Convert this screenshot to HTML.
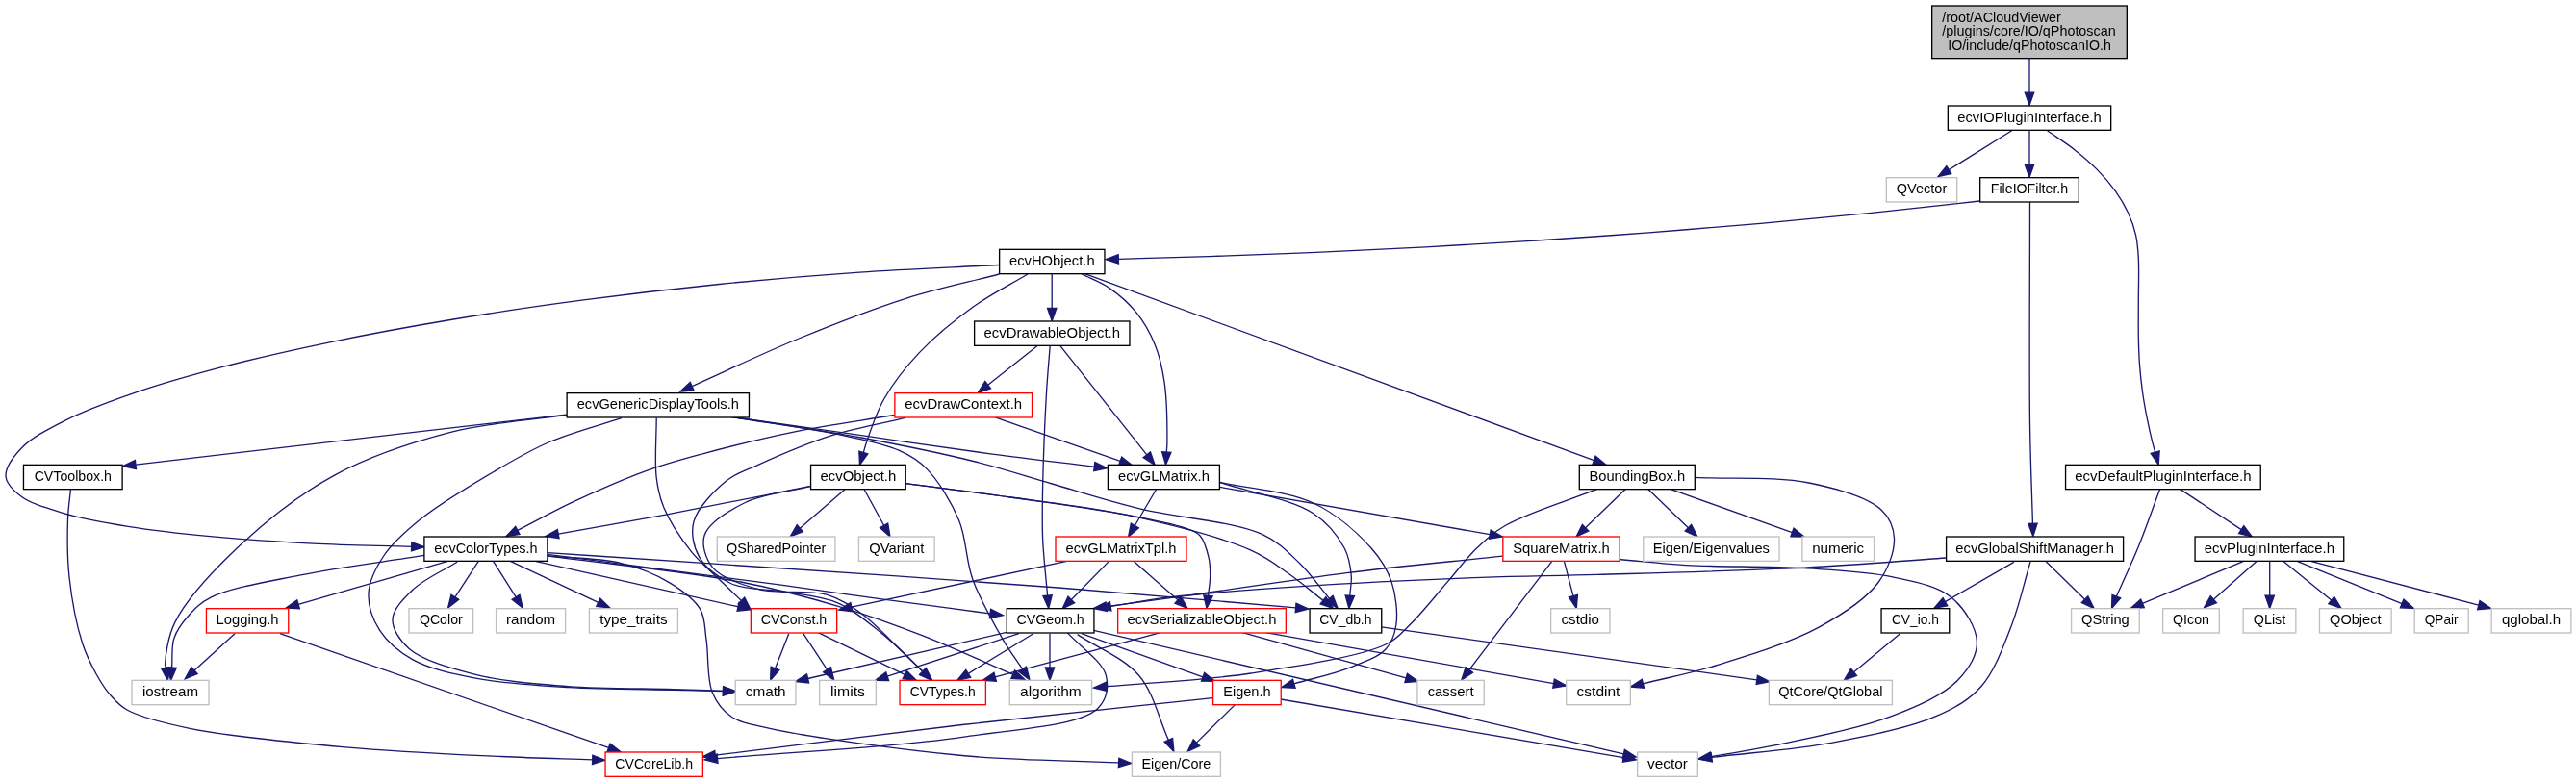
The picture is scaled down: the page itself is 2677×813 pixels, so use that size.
<!DOCTYPE html><html><head><meta charset="utf-8"><style>html,body{margin:0;padding:0;background:#fff;}svg{display:block;}text{font-family:"Liberation Sans",sans-serif;font-size:13.9px;fill:#000;}.t text{}</style></head><body>
<svg width="2677" height="813" viewBox="0 0 2677 813">
<rect width="2677" height="813" fill="#fff"/>
<g fill="none" stroke="#191970" stroke-width="1.33">
<path d="M2109.00,60.60 L2109.00,96.17"/><polygon fill="#191970" points="2109.00,109.50 2113.67,96.17 2104.33,96.17"/>
<path d="M2090.70,135.80 L2025.31,176.55"/><polygon fill="#191970" points="2014.00,183.60 2027.78,180.51 2022.84,172.59"/>
<path d="M2109.00,135.40 L2109.00,171.07"/><polygon fill="#191970" points="2109.00,184.40 2113.67,171.07 2104.33,171.07"/>
<path d="M2127.50,135.80 C2137.07,142.50 2147.28,148.86 2156.20,155.90 C2164.68,162.59 2172.74,169.56 2179.90,176.90 C2186.70,183.86 2192.94,191.13 2198.30,198.70 C2203.44,205.96 2208.02,213.52 2211.60,221.30 C2215.07,228.84 2217.82,236.68 2219.60,244.60 C2221.37,252.45 2221.78,259.34 2222.30,268.60 C2223.01,281.25 2222.30,299.39 2222.30,313.60 C2222.30,326.38 2222.07,338.52 2222.30,350.00 C2222.51,360.33 2222.79,369.72 2223.50,379.40 C2224.20,388.88 2225.21,398.27 2226.50,407.50 C2227.76,416.53 2229.37,425.45 2231.10,434.20 C2232.78,442.74 2235.05,452.78 2236.70,459.40 C2237.78,463.75 2238.67,466.57 2239.66,470.15"/><polygon fill="#191970" points="2243.20,483.00 2244.16,468.91 2235.16,471.39"/>
<path d="M2057.50,209.00 C2019.87,213.13 1982.42,217.53 1944.60,221.40 C1906.46,225.30 1868.04,228.91 1829.60,232.30 C1790.98,235.71 1752.15,238.85 1713.40,241.80 C1674.65,244.75 1635.82,247.50 1597.10,250.00 C1558.52,252.49 1519.89,254.74 1481.50,256.80 C1443.42,258.84 1405.42,260.66 1367.70,262.30 C1330.42,263.92 1292.03,265.40 1256.50,266.60 C1223.81,267.70 1193.72,268.41 1162.32,269.32"/><polygon fill="#191970" points="1149.00,269.70 1162.46,273.98 1162.19,264.65"/>
<path d="M2109.50,209.90 C2109.50,286.60 2108.63,378.29 2109.50,440.00 C2110.08,481.55 2111.45,509.52 2112.43,544.28"/><polygon fill="#191970" points="2112.80,557.60 2117.09,544.14 2107.76,544.41"/>
<path d="M1038.40,275.50 C990.00,278.03 941.63,279.78 893.20,283.10 C844.60,286.44 795.64,290.62 747.30,295.50 C699.38,300.34 651.40,305.95 604.40,312.20 C558.43,318.31 512.68,325.07 468.30,332.50 C425.55,339.65 383.28,347.39 342.80,355.80 C304.52,363.76 266.88,372.15 231.60,381.40 C199.08,389.93 167.32,398.85 138.60,408.80 C113.06,417.65 88.05,426.71 67.40,437.30 C50.10,446.17 32.47,455.09 22.00,466.20 C13.81,474.89 5.42,486.35 6.00,495.00 C6.51,502.68 13.93,509.98 21.50,515.80 C31.70,523.65 48.79,528.36 65.20,533.30 C85.12,539.29 108.91,543.36 133.10,547.30 C160.45,551.76 190.50,555.00 221.10,557.90 C254.28,561.04 290.54,563.37 325.10,565.10 C359.39,566.82 393.48,567.22 427.68,568.29"/><polygon fill="#191970" points="441.00,568.70 427.82,563.62 427.53,572.95"/>
<path d="M1038.40,285.00 C1006.07,293.43 974.66,299.76 941.40,310.30 C904.98,321.84 865.85,337.29 828.80,352.50 C791.77,367.71 755.71,385.20 719.17,401.56"/><polygon fill="#191970" points="707.00,407.00 721.07,405.82 717.26,397.29"/>
<path d="M1068.00,285.00 C1049.23,296.27 1029.95,305.71 1011.70,318.80 C992.35,332.68 971.39,349.75 955.40,366.60 C940.97,381.82 928.24,398.15 918.90,414.50 C910.52,429.19 904.11,449.51 900.60,459.50 C898.89,464.36 898.41,466.85 897.31,470.53"/><polygon fill="#191970" points="893.50,483.30 901.79,471.86 892.84,469.19"/>
<path d="M1093.20,285.00 L1093.20,320.47"/><polygon fill="#191970" points="1093.20,333.80 1097.87,320.47 1088.53,320.47"/>
<path d="M1124.30,285.00 C1133.67,289.70 1143.43,292.97 1152.40,299.10 C1162.24,305.82 1172.58,314.66 1180.50,324.40 C1188.56,334.31 1195.28,346.13 1200.20,358.20 C1205.21,370.50 1207.94,382.87 1210.10,397.60 C1212.77,415.79 1212.98,447.47 1212.90,459.50 C1212.87,464.46 1212.49,466.50 1212.28,469.99"/><polygon fill="#191970" points="1211.50,483.30 1216.94,470.27 1207.62,469.72"/>
<path d="M1127.50,284.60 L1656.49,478.61"/><polygon fill="#191970" points="1669.00,483.20 1658.09,474.23 1654.88,482.99"/>
<path d="M1078.10,359.60 L1026.67,400.15"/><polygon fill="#191970" points="1016.20,408.40 1029.56,403.81 1023.78,396.48"/>
<path d="M1091.20,359.60 C1089.93,376.40 1088.52,390.46 1087.40,410.00 C1085.85,437.08 1084.14,479.51 1083.60,507.00 C1083.20,527.31 1082.84,541.86 1083.60,560.00 C1084.41,579.21 1086.92,599.48 1088.58,619.22"/><polygon fill="#191970" points="1089.70,632.50 1093.24,618.83 1083.93,619.61"/>
<path d="M1101.90,359.60 L1191.81,472.86"/><polygon fill="#191970" points="1200.10,483.30 1195.47,469.96 1188.15,475.76"/>
<path d="M929.70,431.50 C895.17,437.27 859.85,441.94 826.10,448.80 C793.40,455.44 758.02,464.29 730.20,471.80 C708.47,477.66 692.96,481.74 672.60,489.10 C648.64,497.76 619.51,510.66 595.90,521.70 C575.02,531.47 557.21,541.52 537.86,551.42"/><polygon fill="#191970" points="526.00,557.50 539.99,555.58 535.74,547.27"/>
<path d="M941.20,434.40 C915.63,440.47 889.78,444.59 864.50,452.60 C838.60,460.80 807.82,474.21 787.70,483.30 C774.25,489.38 764.93,491.68 754.70,500.00 C742.34,510.05 724.85,527.77 721.00,542.20 C717.81,554.15 720.68,568.31 726.60,578.80 C733.05,590.24 746.68,600.85 760.40,607.00 C776.00,614.00 798.23,612.07 816.70,615.40 C834.79,618.66 853.69,619.67 870.10,626.70 C886.52,633.73 900.71,646.00 915.20,657.60 C930.34,669.72 944.29,684.68 958.84,698.22"/><polygon fill="#191970" points="968.60,707.30 962.02,694.80 955.66,701.64"/>
<path d="M1034.10,433.90 L1164.12,479.40"/><polygon fill="#191970" points="1176.70,483.80 1165.66,474.99 1162.58,483.81"/>
<path d="M588.20,431.10 L140.94,483.06"/><polygon fill="#191970" points="127.70,484.60 141.48,487.70 140.40,478.42"/>
<path d="M589.20,431.30 C549.27,437.27 509.05,439.02 469.40,449.20 C428.19,459.78 384.46,473.93 346.70,494.60 C309.12,515.18 272.01,545.34 243.30,572.80 C218.56,596.46 193.19,624.30 181.90,646.90 C174.24,662.23 171.86,683.13 171.60,690.00 C171.52,692.14 172.05,692.83 172.28,694.24"/><polygon fill="#191970" points="174.40,707.40 176.89,693.50 167.67,694.98"/>
<path d="M645.90,434.60 C620.93,442.90 593.94,449.65 571.00,459.50 C550.16,468.45 533.78,478.23 513.50,490.20 C489.46,504.39 457.21,523.47 436.70,540.10 C420.92,552.90 407.49,564.71 398.40,578.50 C390.46,590.54 383.58,604.01 383.00,616.90 C382.43,629.58 387.35,644.00 394.50,655.20 C402.19,667.25 414.68,677.91 429.10,685.90 C446.59,695.59 470.23,700.39 494.30,705.10 C522.96,710.70 557.11,712.64 590.20,714.70 C625.52,716.90 670.25,716.71 700.00,717.40 C720.37,717.87 734.32,718.14 751.47,718.51"/><polygon fill="#191970" points="764.80,718.80 751.57,713.84 751.37,723.18"/>
<path d="M682.20,434.40 C682.20,455.17 680.10,479.56 682.20,496.70 C683.71,509.05 685.34,517.08 690.00,528.10 C695.98,542.22 707.93,560.42 718.10,573.20 C726.90,584.26 737.22,592.43 746.30,601.30 C754.63,609.44 762.42,616.75 770.48,624.48"/><polygon fill="#191970" points="780.10,633.70 773.71,621.10 767.25,627.85"/>
<path d="M759.40,433.30 C804.70,439.77 850.01,446.23 895.30,452.70 C940.58,459.17 988.59,466.46 1031.10,472.10 C1068.64,477.08 1101.88,480.75 1137.27,485.08"/><polygon fill="#191970" points="1150.50,486.70 1137.84,480.45 1136.70,489.72"/>
<path d="M759.40,433.30 C798.23,439.77 843.87,445.79 875.90,452.70 C898.77,457.64 918.49,461.15 934.10,468.20 C946.00,473.57 954.10,478.24 963.20,487.60 C975.41,500.16 988.68,521.82 996.60,540.90 C1004.50,559.93 1003.47,581.84 1010.70,601.90 C1018.36,623.17 1032.34,647.76 1042.20,664.80 C1049.35,677.16 1055.83,685.39 1062.64,695.68"/><polygon fill="#191970" points="1070.00,706.80 1066.54,693.11 1058.75,698.26"/>
<path d="M759.40,433.30 C804.60,440.53 851.40,446.92 895.00,455.00 C935.98,462.59 978.21,471.15 1013.70,480.00 C1043.05,487.32 1065.86,495.13 1093.40,503.00 C1122.98,511.46 1152.27,520.95 1185.50,529.10 C1223.95,538.53 1282.03,541.96 1311.00,555.20 C1328.93,563.39 1338.23,573.80 1350.00,585.00 C1361.75,596.18 1371.06,609.88 1381.59,622.32"/><polygon fill="#191970" points="1390.20,632.50 1385.15,619.31 1378.02,625.34"/>
<path d="M73.40,509.00 C72.43,519.33 70.91,527.96 70.50,540.00 C69.93,556.71 69.74,579.47 72.00,600.00 C74.43,622.06 79.59,649.70 85.40,668.00 C89.57,681.16 94.65,691.04 100.00,700.70 C104.64,709.07 109.39,716.60 115.00,723.00 C120.15,728.87 123.82,733.47 132.00,738.00 C146.16,745.84 170.26,751.74 197.10,757.30 C238.67,765.90 304.82,771.93 358.80,776.80 C412.65,781.66 473.78,784.28 520.60,786.50 C556.47,788.20 583.99,788.72 615.68,789.83"/><polygon fill="#191970" points="629.00,790.30 615.84,785.17 615.51,794.50"/>
<path d="M842.40,505.40 C792.20,515.30 738.28,526.34 691.80,535.10 C651.86,542.63 617.41,548.46 580.22,555.14"/><polygon fill="#191970" points="567.10,557.50 581.05,559.74 579.39,550.55"/>
<path d="M842.00,505.60 C819.47,511.23 793.44,513.06 774.40,522.50 C757.63,530.81 736.51,543.50 732.20,556.30 C728.74,566.58 733.34,581.15 740.70,590.10 C749.77,601.12 770.54,607.83 788.50,612.60 C809.26,618.12 839.73,612.52 858.90,618.20 C873.60,622.56 883.88,629.75 895.40,638.00 C907.67,646.79 919.03,659.63 930.00,670.00 C940.15,679.60 949.34,688.69 959.01,698.04"/><polygon fill="#191970" points="968.60,707.30 962.26,694.68 955.77,701.40"/>
<path d="M877.80,509.00 L831.28,549.28"/><polygon fill="#191970" points="821.20,558.00 834.33,552.81 828.22,545.74"/>
<path d="M898.20,509.00 L918.60,546.30"/><polygon fill="#191970" points="925.00,558.00 922.70,544.06 914.51,548.55"/>
<path d="M941.50,502.70 C977.67,507.47 1012.93,511.75 1050.00,517.00 C1089.07,522.53 1136.91,528.94 1170.20,535.20 C1194.13,539.70 1218.04,544.20 1231.50,549.00 C1238.54,551.51 1242.94,552.39 1246.90,556.70 C1251.65,561.86 1254.35,572.14 1256.10,579.70 C1257.68,586.55 1257.72,593.33 1257.60,600.00 C1257.48,606.51 1256.18,612.83 1255.47,619.25"/><polygon fill="#191970" points="1254.00,632.50 1260.11,619.77 1250.83,618.74"/>
<path d="M941.50,502.70 C977.67,507.47 1012.93,511.75 1050.00,517.00 C1089.07,522.53 1129.65,526.40 1170.20,535.20 C1212.93,544.47 1269.75,558.70 1300.00,572.10 C1317.88,580.02 1327.33,588.15 1340.00,597.00 C1352.29,605.59 1363.33,615.20 1374.99,624.30"/><polygon fill="#191970" points="1385.50,632.50 1377.86,620.62 1372.12,627.98"/>
<path d="M1201.40,509.00 L1179.35,546.51"/><polygon fill="#191970" points="1172.60,558.00 1183.38,548.87 1175.33,544.14"/>
<path d="M1266.50,506.20 L1548.37,555.69"/><polygon fill="#191970" points="1561.50,558.00 1549.18,551.09 1547.56,560.29"/>
<path d="M1266.50,501.10 C1299.27,511.97 1342.13,518.81 1364.80,533.70 C1380.34,543.91 1390.79,557.89 1397.20,570.00 C1402.14,579.33 1403.42,589.26 1404.20,598.00 C1404.87,605.50 1403.26,612.13 1402.79,619.20"/><polygon fill="#191970" points="1401.90,632.50 1407.45,619.51 1398.13,618.89"/>
<path d="M1268.20,501.50 C1300.40,508.67 1337.57,510.16 1364.80,523.00 C1388.74,534.28 1411.08,554.18 1425.10,570.00 C1435.34,581.55 1441.78,591.99 1446.10,604.90 C1450.65,618.52 1452.73,637.38 1450.80,650.00 C1449.30,659.78 1446.56,668.05 1440.00,675.00 C1431.66,683.84 1415.17,689.11 1400.60,694.80 C1383.89,701.33 1363.41,705.48 1344.81,710.82"/><polygon fill="#191970" points="1332.00,714.50 1346.10,715.31 1343.52,706.33"/>
<path d="M1689.20,508.60 L1647.59,548.74"/><polygon fill="#191970" points="1638.00,558.00 1650.84,552.11 1644.35,545.38"/>
<path d="M1712.70,508.60 L1754.40,548.75"/><polygon fill="#191970" points="1764.00,558.00 1757.64,545.39 1751.16,552.12"/>
<path d="M1736.20,508.60 L1862.44,553.53"/><polygon fill="#191970" points="1875.00,558.00 1864.01,549.13 1860.88,557.93"/>
<path d="M1659.40,508.60 C1627.93,521.07 1587.16,533.23 1565.00,546.00 C1551.32,553.89 1544.31,560.73 1534.60,570.00 C1523.99,580.12 1515.09,592.54 1504.30,604.90 C1492.00,618.99 1476.81,638.37 1464.70,650.00 C1455.89,658.47 1452.64,663.96 1440.00,670.00 C1413.18,682.82 1347.70,692.73 1300.00,700.00 C1251.05,707.46 1199.92,709.19 1149.87,713.78"/><polygon fill="#191970" points="1136.60,715.00 1150.30,718.43 1149.45,709.13"/>
<path d="M1761.50,496.40 C1801.00,498.27 1845.48,494.92 1880.00,502.00 C1908.36,507.82 1940.96,516.85 1955.00,530.00 C1964.00,538.43 1968.11,548.85 1968.50,560.00 C1968.98,573.61 1961.99,592.02 1951.60,606.00 C1938.59,623.49 1914.65,638.75 1890.20,652.10 C1860.34,668.41 1815.70,681.83 1782.80,692.00 C1755.71,700.38 1732.56,704.52 1707.43,710.78"/><polygon fill="#191970" points="1694.50,714.00 1708.56,715.31 1706.31,706.25"/>
<path d="M2244.60,508.60 C2237.10,528.67 2229.90,549.71 2222.10,568.80 C2214.86,586.54 2200.98,616.20 2199.60,619.50 C2199.45,619.85 2199.45,619.89 2199.37,620.09"/><polygon fill="#191970" points="2194.50,632.50 2203.72,621.80 2195.02,618.39"/>
<path d="M2265.70,508.60 L2329.19,550.64"/><polygon fill="#191970" points="2340.30,558.00 2331.76,546.75 2326.61,554.53"/>
<path d="M441.20,577.40 C397.83,584.30 350.56,590.04 311.10,598.10 C277.62,604.93 238.91,611.15 219.10,621.10 C207.98,626.68 202.43,632.79 196.00,640.00 C189.78,646.98 183.83,654.74 180.90,663.50 C177.83,672.68 179.37,683.91 178.60,694.11"/><polygon fill="#191970" points="177.60,707.40 183.26,694.46 173.94,693.76"/>
<path d="M465.60,583.30 L310.10,628.29"/><polygon fill="#191970" points="297.30,632.00 311.40,632.78 308.81,623.81"/>
<path d="M475.10,584.20 C459.77,593.80 440.69,601.90 429.10,613.00 C419.50,622.20 408.48,633.32 408.00,643.70 C407.54,653.79 415.33,665.82 425.20,674.40 C439.52,686.85 468.95,694.84 494.30,701.30 C523.25,708.67 557.09,711.03 590.20,713.60 C625.50,716.34 670.25,715.69 700.00,716.60 C720.37,717.22 734.32,717.77 751.48,718.35"/><polygon fill="#191970" points="764.80,718.80 751.64,713.68 751.32,723.02"/>
<path d="M497.30,583.30 L472.87,620.83"/><polygon fill="#191970" points="465.60,632.00 476.79,623.38 468.96,618.28"/>
<path d="M512.50,583.30 L536.09,620.72"/><polygon fill="#191970" points="543.20,632.00 540.04,618.23 532.14,623.21"/>
<path d="M530.30,583.30 L621.74,626.32"/><polygon fill="#191970" points="633.80,632.00 623.73,622.10 619.75,630.55"/>
<path d="M556.20,583.30 L767.10,630.77"/><polygon fill="#191970" points="780.10,633.70 768.12,626.22 766.07,635.33"/>
<path d="M569.00,577.80 C635.87,586.87 713.73,594.24 769.60,605.00 C810.44,612.86 841.70,621.48 874.50,631.30 C904.21,640.20 929.73,649.48 958.30,660.60 C989.05,672.57 1021.27,687.69 1052.75,701.23"/><polygon fill="#191970" points="1065.00,706.50 1054.60,696.94 1050.91,705.52"/>
<path d="M569.00,576.30 C649.87,586.93 747.47,599.49 811.60,608.20 C853.77,613.93 880.83,618.03 916.40,622.90 C953.25,627.94 991.46,632.92 1028.99,637.94"/><polygon fill="#191970" points="1042.20,639.70 1029.61,633.31 1028.37,642.56"/>
<path d="M569.00,574.70 C621.90,578.20 663.70,580.86 727.70,585.20 C825.74,591.84 988.66,602.43 1100.00,611.00 C1190.67,617.98 1264.41,624.92 1346.62,631.88"/><polygon fill="#191970" points="1359.90,633.00 1347.01,627.22 1346.22,636.53"/>
<path d="M569.00,578.00 C593.97,580.40 621.50,579.77 643.90,585.20 C663.29,589.90 681.67,597.18 696.30,606.10 C708.86,613.76 721.53,622.79 727.70,633.40 C733.11,642.71 732.12,652.82 734.00,664.80 C736.48,680.58 734.46,705.81 740.30,720.00 C744.72,730.74 751.08,738.88 760.00,745.00 C770.23,752.01 781.35,753.14 800.00,757.30 C840.98,766.43 936.65,779.61 1000.00,785.50 C1056.87,790.79 1108.39,790.43 1162.58,792.89"/><polygon fill="#191970" points="1175.90,793.50 1162.80,788.23 1162.37,797.56"/>
<path d="M1111.20,582.90 L884.84,631.22"/><polygon fill="#191970" points="871.80,634.00 885.81,635.78 883.86,626.65"/>
<path d="M1152.10,583.90 L1113.33,623.48"/><polygon fill="#191970" points="1104.00,633.00 1116.66,626.75 1109.99,620.21"/>
<path d="M1178.20,583.50 L1224.08,623.71"/><polygon fill="#191970" points="1234.10,632.50 1227.15,620.20 1221.00,627.23"/>
<path d="M1561.40,578.20 C1507.43,584.00 1453.50,588.84 1399.50,595.60 C1345.20,602.40 1282.35,612.51 1236.50,618.90 C1203.06,623.56 1178.64,626.77 1149.71,630.70"/><polygon fill="#191970" points="1136.50,632.50 1150.34,635.33 1149.08,626.08"/>
<path d="M1625.50,583.60 L1634.92,619.60"/><polygon fill="#191970" points="1638.30,632.50 1639.44,618.42 1630.41,620.79"/>
<path d="M1612.70,583.60 L1526.87,696.39"/><polygon fill="#191970" points="1518.80,707.00 1530.59,699.22 1523.16,693.56"/>
<path d="M1683.00,581.50 C1706.03,583.53 1725.75,586.11 1752.10,587.60 C1787.16,589.59 1836.96,588.33 1874.90,590.70 C1907.82,592.76 1939.64,593.85 1966.90,599.90 C1989.76,604.97 2013.52,609.06 2028.30,621.40 C2041.62,632.53 2054.00,652.51 2054.40,667.40 C2054.77,681.07 2045.68,695.70 2034.50,707.30 C2019.81,722.54 1993.55,733.79 1966.90,744.20 C1932.75,757.54 1878.93,767.47 1844.20,774.90 C1818.90,780.31 1800.15,782.74 1778.12,786.66"/><polygon fill="#191970" points="1765.00,789.00 1778.94,791.26 1777.31,782.07"/>
<path d="M2022.20,580.00 C1973.10,583.37 1928.65,587.35 1874.90,590.10 C1810.04,593.42 1721.38,595.62 1660.00,597.40 C1614.01,598.73 1583.88,598.65 1539.30,600.30 C1483.88,602.35 1410.53,605.77 1352.90,609.60 C1302.95,612.92 1249.83,616.82 1213.20,621.20 C1189.29,624.06 1173.85,627.36 1154.17,630.44"/><polygon fill="#191970" points="1141.00,632.50 1154.89,635.05 1153.45,625.82"/>
<path d="M2092.80,584.30 L2021.44,625.62"/><polygon fill="#191970" points="2009.90,632.30 2023.78,629.66 2019.10,621.58"/>
<path d="M2126.20,583.70 L2166.57,623.18"/><polygon fill="#191970" points="2176.10,632.50 2169.83,619.84 2163.30,626.52"/>
<path d="M2110.00,584.00 C2103.23,606.70 2098.30,630.35 2089.70,652.10 C2081.24,673.48 2072.84,697.81 2059.00,713.50 C2046.57,727.58 2032.46,735.51 2013.00,744.20 C1985.44,756.51 1943.05,764.70 1905.50,771.80 C1865.22,779.41 1820.99,782.18 1778.73,787.37"/><polygon fill="#191970" points="1765.50,789.00 1779.30,792.01 1778.16,782.74"/>
<path d="M2331.10,583.70 L2226.50,627.36"/><polygon fill="#191970" points="2214.20,632.50 2228.30,631.67 2224.70,623.06"/>
<path d="M2344.80,583.70 L2300.37,623.15"/><polygon fill="#191970" points="2290.40,632.00 2303.47,626.64 2297.27,619.66"/>
<path d="M2358.70,583.70 L2358.70,619.17"/><polygon fill="#191970" points="2358.70,632.50 2363.37,619.17 2354.03,619.17"/>
<path d="M2373.20,583.70 L2422.77,624.08"/><polygon fill="#191970" points="2433.10,632.50 2425.72,620.46 2419.82,627.70"/>
<path d="M2387.60,583.70 L2496.14,627.51"/><polygon fill="#191970" points="2508.50,632.50 2497.89,623.18 2494.39,631.84"/>
<path d="M2402.10,583.70 L2575.80,629.13"/><polygon fill="#191970" points="2588.70,632.50 2576.99,624.61 2574.62,633.65"/>
<path d="M244.00,658.70 L202.04,697.01"/><polygon fill="#191970" points="192.20,706.00 205.19,700.46 198.89,693.56"/>
<path d="M290.90,658.70 L632.51,777.42"/><polygon fill="#191970" points="645.10,781.80 634.04,773.01 630.98,781.84"/>
<path d="M819.80,658.70 L805.50,694.90"/><polygon fill="#191970" points="800.60,707.30 809.84,696.62 801.15,693.19"/>
<path d="M834.80,658.70 L859.47,696.17"/><polygon fill="#191970" points="866.80,707.30 863.37,693.60 855.57,698.73"/>
<path d="M849.70,657.40 L940.21,701.47"/><polygon fill="#191970" points="952.20,707.30 942.26,697.27 938.17,705.66"/>
<path d="M1046.10,657.40 L839.58,705.48"/><polygon fill="#191970" points="826.60,708.50 840.64,710.03 838.52,700.93"/>
<path d="M1058.90,658.70 L922.18,703.18"/><polygon fill="#191970" points="909.50,707.30 923.62,707.62 920.73,698.74"/>
<path d="M1073.90,658.70 L1006.25,700.32"/><polygon fill="#191970" points="994.90,707.30 1008.70,704.29 1003.81,696.34"/>
<path d="M1091.00,658.70 L1091.00,693.97"/><polygon fill="#191970" points="1091.00,707.30 1095.67,693.97 1086.33,693.97"/>
<path d="M1123.80,658.70 L1250.05,703.81"/><polygon fill="#191970" points="1262.60,708.30 1251.62,699.42 1248.48,708.21"/>
<path d="M1119.60,659.60 C1140.93,673.83 1167.76,683.72 1183.60,702.30 C1199.12,720.49 1204.10,747.02 1214.35,769.38"/><polygon fill="#191970" points="1219.90,781.50 1218.59,767.44 1210.10,771.33"/>
<path d="M1136.60,655.30 L1687.32,783.97"/><polygon fill="#191970" points="1700.30,787.00 1688.38,779.42 1686.26,788.51"/>
<path d="M1108.90,657.40 C1122.40,672.37 1145.67,687.37 1149.40,702.30 C1152.24,713.69 1150.47,727.16 1140.90,736.40 C1121.53,755.10 1054.14,758.21 1000.00,766.30 C927.91,777.07 830.39,781.19 745.58,788.63"/><polygon fill="#191970" points="732.30,789.80 745.99,793.29 745.17,783.98"/>
<path d="M1207.10,657.40 L1034.17,703.84"/><polygon fill="#191970" points="1021.30,707.30 1035.39,708.35 1032.96,699.33"/>
<path d="M1290.30,657.40 L1461.16,704.93"/><polygon fill="#191970" points="1474.00,708.50 1462.41,700.43 1459.91,709.43"/>
<path d="M1313.80,657.40 L1614.57,710.58"/><polygon fill="#191970" points="1627.70,712.90 1615.39,705.98 1613.76,715.18"/>
<path d="M1435.50,651.90 L1825.80,706.84"/><polygon fill="#191970" points="1839.00,708.70 1826.45,702.22 1825.15,711.47"/>
<path d="M1974.60,658.80 L1926.55,698.77"/><polygon fill="#191970" points="1916.30,707.30 1929.53,702.37 1923.56,695.18"/>
<path d="M1260.50,725.70 C1173.67,734.97 1086.47,743.55 1000.00,753.50 C914.09,763.38 828.89,774.61 743.33,785.17"/><polygon fill="#191970" points="730.10,786.80 743.90,789.80 742.76,780.53"/>
<path d="M1283.90,732.10 L1243.47,772.12"/><polygon fill="#191970" points="1234.00,781.50 1246.76,775.44 1240.19,768.80"/>
<path d="M1330.90,727.00 L1687.16,787.57"/><polygon fill="#191970" points="1700.30,789.80 1687.94,782.96 1686.38,792.17"/>
</g>
<rect x="2007.66" y="5.99" width="202.67" height="54.67" fill="#bfbfbf" stroke="#000" stroke-width="1.33"/><rect x="2024.34" y="110.00" width="169.33" height="25.33" fill="#fff" stroke="#000" stroke-width="1.33"/><rect x="1960.34" y="184.67" width="73.33" height="25.33" fill="#fff" stroke="#bfbfbf" stroke-width="1.33"/><rect x="2057.66" y="184.67" width="102.67" height="25.33" fill="#fff" stroke="#000" stroke-width="1.33"/><rect x="1038.63" y="259.33" width="109.33" height="25.33" fill="#fff" stroke="#000" stroke-width="1.33"/><rect x="1012.63" y="334.00" width="161.33" height="25.33" fill="#fff" stroke="#000" stroke-width="1.33"/><rect x="589.13" y="408.66" width="189.33" height="25.33" fill="#fff" stroke="#000" stroke-width="1.33"/><rect x="929.87" y="408.66" width="142.67" height="25.33" fill="#fff" stroke="#ff0000" stroke-width="1.33"/><rect x="24.46" y="483.33" width="102.67" height="25.33" fill="#fff" stroke="#000" stroke-width="1.33"/><rect x="842.56" y="483.33" width="98.67" height="25.33" fill="#fff" stroke="#000" stroke-width="1.33"/><rect x="1151.40" y="483.33" width="116.00" height="25.33" fill="#fff" stroke="#000" stroke-width="1.33"/><rect x="1641.30" y="483.33" width="120.00" height="25.33" fill="#fff" stroke="#000" stroke-width="1.33"/><rect x="2146.57" y="483.33" width="202.67" height="25.33" fill="#fff" stroke="#000" stroke-width="1.33"/><rect x="440.90" y="558.00" width="128.00" height="25.33" fill="#fff" stroke="#000" stroke-width="1.33"/><rect x="745.26" y="558.00" width="122.67" height="25.33" fill="#fff" stroke="#bfbfbf" stroke-width="1.33"/><rect x="892.46" y="558.00" width="78.67" height="25.33" fill="#fff" stroke="#bfbfbf" stroke-width="1.33"/><rect x="1097.00" y="558.00" width="136.00" height="25.33" fill="#fff" stroke="#ff0000" stroke-width="1.33"/><rect x="1561.84" y="558.00" width="121.33" height="25.33" fill="#fff" stroke="#ff0000" stroke-width="1.33"/><rect x="1707.74" y="558.00" width="141.33" height="25.33" fill="#fff" stroke="#bfbfbf" stroke-width="1.33"/><rect x="1872.87" y="558.00" width="74.67" height="25.33" fill="#fff" stroke="#bfbfbf" stroke-width="1.33"/><rect x="2022.60" y="558.00" width="184.00" height="25.33" fill="#fff" stroke="#000" stroke-width="1.33"/><rect x="2281.07" y="558.00" width="154.67" height="25.33" fill="#fff" stroke="#000" stroke-width="1.33"/><rect x="214.44" y="632.67" width="85.33" height="25.33" fill="#fff" stroke="#ff0000" stroke-width="1.33"/><rect x="424.97" y="632.67" width="66.67" height="25.33" fill="#fff" stroke="#bfbfbf" stroke-width="1.33"/><rect x="515.60" y="632.67" width="72.00" height="25.33" fill="#fff" stroke="#bfbfbf" stroke-width="1.33"/><rect x="612.40" y="632.67" width="92.00" height="25.33" fill="#fff" stroke="#bfbfbf" stroke-width="1.33"/><rect x="780.34" y="632.67" width="89.33" height="25.33" fill="#fff" stroke="#ff0000" stroke-width="1.33"/><rect x="1046.26" y="632.67" width="90.67" height="25.33" fill="#fff" stroke="#000" stroke-width="1.33"/><rect x="1161.66" y="632.67" width="174.67" height="25.33" fill="#fff" stroke="#ff0000" stroke-width="1.33"/><rect x="1361.07" y="632.67" width="74.67" height="25.33" fill="#fff" stroke="#000" stroke-width="1.33"/><rect x="1611.63" y="632.67" width="61.33" height="25.33" fill="#fff" stroke="#bfbfbf" stroke-width="1.33"/><rect x="1955.07" y="632.67" width="70.67" height="25.33" fill="#fff" stroke="#000" stroke-width="1.33"/><rect x="2152.57" y="632.67" width="70.67" height="25.33" fill="#fff" stroke="#bfbfbf" stroke-width="1.33"/><rect x="2247.66" y="632.67" width="58.67" height="25.33" fill="#fff" stroke="#bfbfbf" stroke-width="1.33"/><rect x="2331.16" y="632.67" width="54.67" height="25.33" fill="#fff" stroke="#bfbfbf" stroke-width="1.33"/><rect x="2410.47" y="632.67" width="74.67" height="25.33" fill="#fff" stroke="#bfbfbf" stroke-width="1.33"/><rect x="2509.20" y="632.67" width="56.00" height="25.33" fill="#fff" stroke="#bfbfbf" stroke-width="1.33"/><rect x="2589.16" y="632.67" width="82.67" height="25.33" fill="#fff" stroke="#bfbfbf" stroke-width="1.33"/><rect x="137.00" y="707.34" width="80.00" height="25.33" fill="#fff" stroke="#bfbfbf" stroke-width="1.33"/><rect x="764.26" y="707.34" width="62.67" height="25.33" fill="#fff" stroke="#bfbfbf" stroke-width="1.33"/><rect x="851.66" y="707.34" width="58.67" height="25.33" fill="#fff" stroke="#bfbfbf" stroke-width="1.33"/><rect x="935.04" y="707.34" width="89.33" height="25.33" fill="#fff" stroke="#ff0000" stroke-width="1.33"/><rect x="1049.24" y="707.34" width="85.33" height="25.33" fill="#fff" stroke="#bfbfbf" stroke-width="1.33"/><rect x="1260.57" y="707.34" width="70.67" height="25.33" fill="#fff" stroke="#ff0000" stroke-width="1.33"/><rect x="1472.93" y="707.34" width="69.33" height="25.33" fill="#fff" stroke="#bfbfbf" stroke-width="1.33"/><rect x="1627.66" y="707.34" width="66.67" height="25.33" fill="#fff" stroke="#bfbfbf" stroke-width="1.33"/><rect x="1838.40" y="707.34" width="128.00" height="25.33" fill="#fff" stroke="#bfbfbf" stroke-width="1.33"/><rect x="629.04" y="782.00" width="101.33" height="25.33" fill="#fff" stroke="#ff0000" stroke-width="1.33"/><rect x="1176.40" y="782.00" width="92.00" height="25.33" fill="#fff" stroke="#bfbfbf" stroke-width="1.33"/><rect x="1701.66" y="782.00" width="62.67" height="25.33" fill="#fff" stroke="#bfbfbf" stroke-width="1.33"/>
<g style="filter:grayscale(1)"><text x="2018.33" y="22.69" textLength="123.56" lengthAdjust="spacingAndGlyphs">/root/ACloudViewer</text><text x="2018.33" y="37.19" textLength="180.36" lengthAdjust="spacingAndGlyphs">/plugins/core/IO/qPhotoscan</text><text x="2109.00" y="51.69" text-anchor="middle" textLength="169.58" lengthAdjust="spacingAndGlyphs">IO/include/qPhotoscanIO.h</text><text x="2109.00" y="126.57" text-anchor="middle" textLength="149.53" lengthAdjust="spacingAndGlyphs">ecvIOPluginInterface.h</text><text x="1997.00" y="201.23" text-anchor="middle" textLength="52.45" lengthAdjust="spacingAndGlyphs">QVector</text><text x="2109.00" y="201.23" text-anchor="middle" textLength="80.41" lengthAdjust="spacingAndGlyphs">FileIOFilter.h</text><text x="1093.30" y="275.90" text-anchor="middle" textLength="88.67" lengthAdjust="spacingAndGlyphs">ecvHObject.h</text><text x="1093.30" y="350.57" text-anchor="middle" textLength="141.47" lengthAdjust="spacingAndGlyphs">ecvDrawableObject.h</text><text x="683.80" y="425.23" text-anchor="middle" textLength="168.11" lengthAdjust="spacingAndGlyphs">ecvGenericDisplayTools.h</text><text x="1001.20" y="425.23" text-anchor="middle" textLength="121.94" lengthAdjust="spacingAndGlyphs">ecvDrawContext.h</text><text x="75.80" y="499.90" text-anchor="middle" textLength="80.31" lengthAdjust="spacingAndGlyphs">CVToolbox.h</text><text x="891.90" y="499.90" text-anchor="middle" textLength="78.74" lengthAdjust="spacingAndGlyphs">ecvObject.h</text><text x="1209.40" y="499.90" text-anchor="middle" textLength="94.89" lengthAdjust="spacingAndGlyphs">ecvGLMatrix.h</text><text x="1701.30" y="499.90" text-anchor="middle" textLength="99.75" lengthAdjust="spacingAndGlyphs">BoundingBox.h</text><text x="2247.90" y="499.90" text-anchor="middle" textLength="183.48" lengthAdjust="spacingAndGlyphs">ecvDefaultPluginInterface.h</text><text x="504.90" y="574.57" text-anchor="middle" textLength="107.41" lengthAdjust="spacingAndGlyphs">ecvColorTypes.h</text><text x="806.60" y="574.57" text-anchor="middle" textLength="103.18" lengthAdjust="spacingAndGlyphs">QSharedPointer</text><text x="931.80" y="574.57" text-anchor="middle" textLength="57.21" lengthAdjust="spacingAndGlyphs">QVariant</text><text x="1165.00" y="574.57" text-anchor="middle" textLength="115.00" lengthAdjust="spacingAndGlyphs">ecvGLMatrixTpl.h</text><text x="1622.50" y="574.57" text-anchor="middle" textLength="100.59" lengthAdjust="spacingAndGlyphs">SquareMatrix.h</text><text x="1778.40" y="574.57" text-anchor="middle" textLength="121.12" lengthAdjust="spacingAndGlyphs">Eigen/Eigenvalues</text><text x="1910.20" y="574.57" text-anchor="middle" textLength="54.06" lengthAdjust="spacingAndGlyphs">numeric</text><text x="2114.60" y="574.57" text-anchor="middle" textLength="164.51" lengthAdjust="spacingAndGlyphs">ecvGlobalShiftManager.h</text><text x="2358.40" y="574.57" text-anchor="middle" textLength="135.25" lengthAdjust="spacingAndGlyphs">ecvPluginInterface.h</text><text x="257.10" y="649.23" text-anchor="middle" textLength="64.93" lengthAdjust="spacingAndGlyphs">Logging.h</text><text x="458.30" y="649.23" text-anchor="middle" textLength="44.85" lengthAdjust="spacingAndGlyphs">QColor</text><text x="551.60" y="649.23" text-anchor="middle" textLength="51.19" lengthAdjust="spacingAndGlyphs">random</text><text x="658.40" y="649.23" text-anchor="middle" textLength="70.50" lengthAdjust="spacingAndGlyphs">type_traits</text><text x="825.00" y="649.23" text-anchor="middle" textLength="68.52" lengthAdjust="spacingAndGlyphs">CVConst.h</text><text x="1091.60" y="649.23" text-anchor="middle" textLength="70.09" lengthAdjust="spacingAndGlyphs">CVGeom.h</text><text x="1249.00" y="649.23" text-anchor="middle" textLength="154.94" lengthAdjust="spacingAndGlyphs">ecvSerializableObject.h</text><text x="1398.40" y="649.23" text-anchor="middle" textLength="54.17" lengthAdjust="spacingAndGlyphs">CV_db.h</text><text x="1642.30" y="649.23" text-anchor="middle" textLength="39.43" lengthAdjust="spacingAndGlyphs">cstdio</text><text x="1990.40" y="649.23" text-anchor="middle" textLength="48.92" lengthAdjust="spacingAndGlyphs">CV_io.h</text><text x="2187.90" y="649.23" text-anchor="middle" textLength="49.78" lengthAdjust="spacingAndGlyphs">QString</text><text x="2277.00" y="649.23" text-anchor="middle" textLength="37.98" lengthAdjust="spacingAndGlyphs">QIcon</text><text x="2358.50" y="649.23" text-anchor="middle" textLength="33.46" lengthAdjust="spacingAndGlyphs">QList</text><text x="2447.80" y="649.23" text-anchor="middle" textLength="53.38" lengthAdjust="spacingAndGlyphs">QObject</text><text x="2537.20" y="649.23" text-anchor="middle" textLength="34.94" lengthAdjust="spacingAndGlyphs">QPair</text><text x="2630.50" y="649.23" text-anchor="middle" textLength="61.20" lengthAdjust="spacingAndGlyphs">qglobal.h</text><text x="177.00" y="723.90" text-anchor="middle" textLength="58.00" lengthAdjust="spacingAndGlyphs">iostream</text><text x="795.60" y="723.90" text-anchor="middle" textLength="41.75" lengthAdjust="spacingAndGlyphs">cmath</text><text x="881.00" y="723.90" text-anchor="middle" textLength="35.91" lengthAdjust="spacingAndGlyphs">limits</text><text x="979.70" y="723.90" text-anchor="middle" textLength="68.00" lengthAdjust="spacingAndGlyphs">CVTypes.h</text><text x="1091.90" y="723.90" text-anchor="middle" textLength="63.70" lengthAdjust="spacingAndGlyphs">algorithm</text><text x="1295.90" y="723.90" text-anchor="middle" textLength="49.43" lengthAdjust="spacingAndGlyphs">Eigen.h</text><text x="1507.60" y="723.90" text-anchor="middle" textLength="47.82" lengthAdjust="spacingAndGlyphs">cassert</text><text x="1661.00" y="723.90" text-anchor="middle" textLength="44.90" lengthAdjust="spacingAndGlyphs">cstdint</text><text x="1902.40" y="723.90" text-anchor="middle" textLength="108.23" lengthAdjust="spacingAndGlyphs">QtCore/QtGlobal</text><text x="679.70" y="798.57" text-anchor="middle" textLength="80.76" lengthAdjust="spacingAndGlyphs">CVCoreLib.h</text><text x="1222.40" y="798.57" text-anchor="middle" textLength="71.87" lengthAdjust="spacingAndGlyphs">Eigen/Core</text><text x="1733.00" y="798.57" text-anchor="middle" textLength="41.87" lengthAdjust="spacingAndGlyphs">vector</text></g>
</svg></body></html>
